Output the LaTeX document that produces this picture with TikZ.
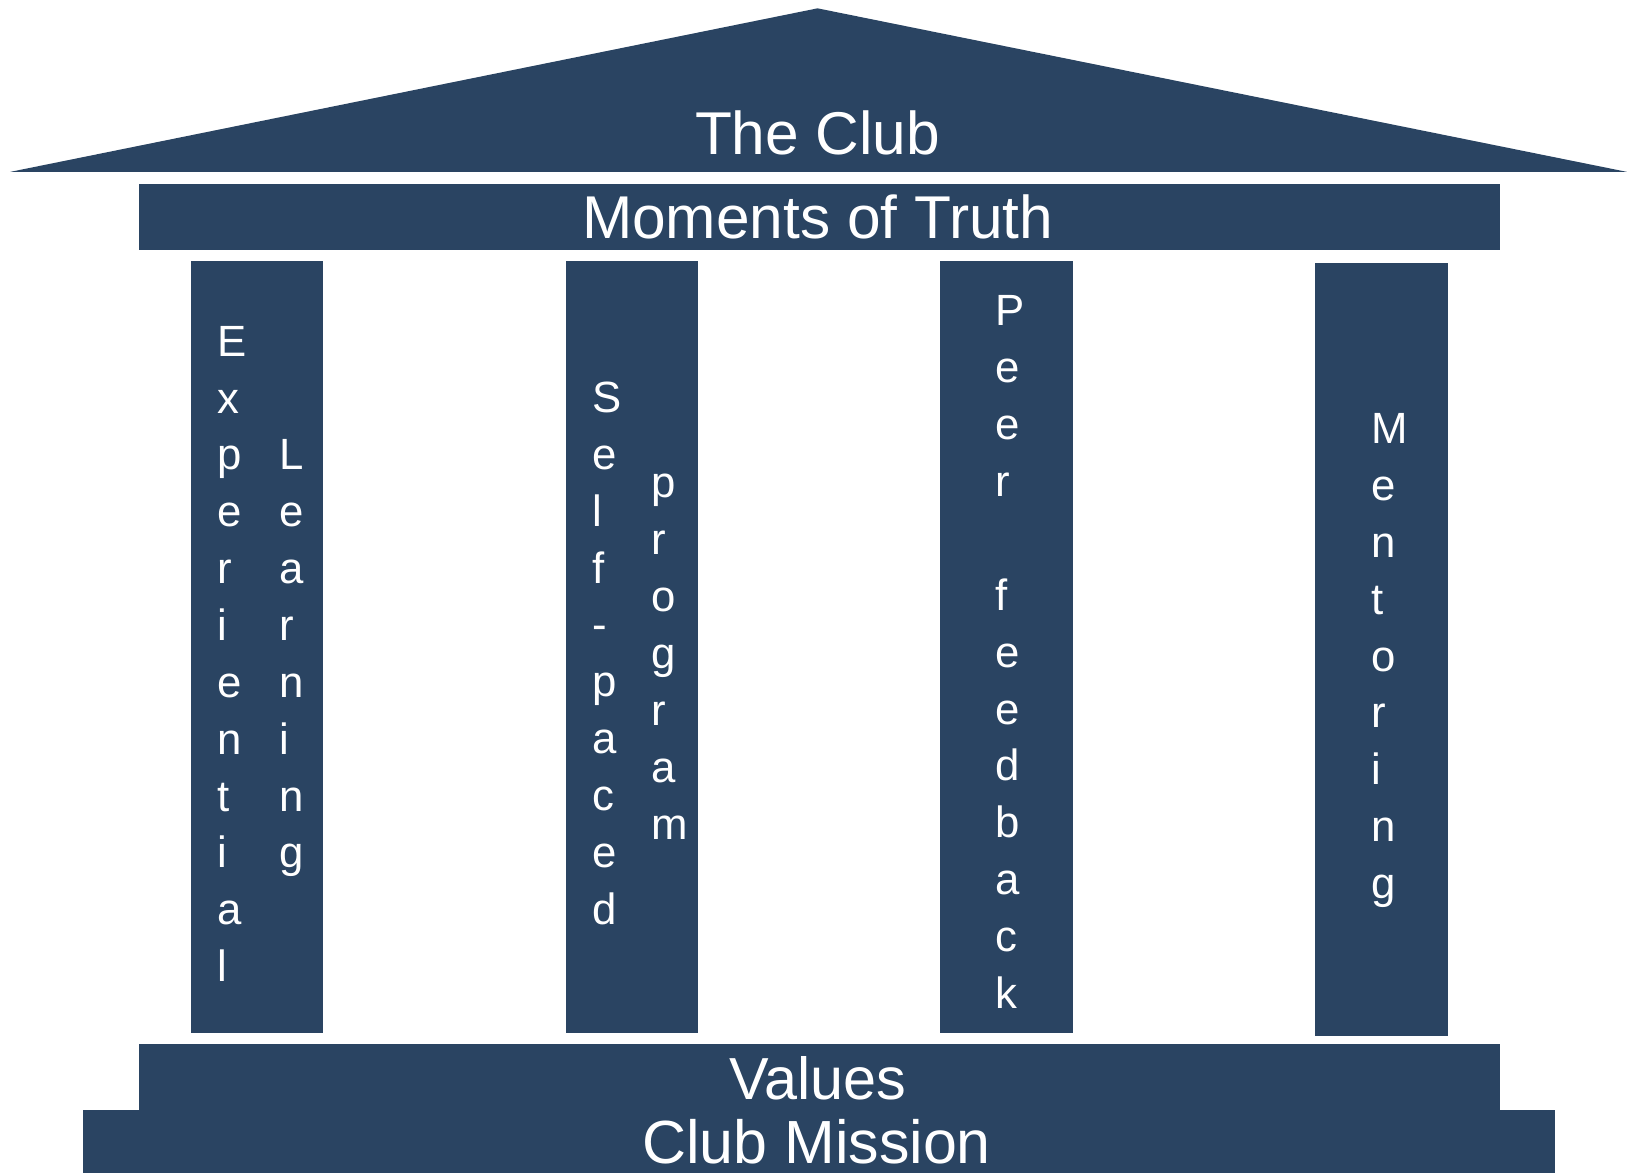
\documentclass[tikz,border=0pt]{standalone}
\usepackage{fontspec}
\setmainfont{Liberation Sans}
\definecolor{navy}{RGB}{42,68,98}
\begin{document}
\begin{tikzpicture}[x=1pt,y=-1pt,
  block/.style={fill=navy},
  letter/.style={text=white, inner sep=0pt, anchor=base west, font=\fontsize{42}{50}\selectfont},
  title/.style={text=white, inner sep=0pt, anchor=base, font=\fontsize{58}{62}\selectfont}]
\useasboundingbox (0,0) rectangle (1568,1126);
% roof
\fill[block] (785,8) -- (1562,165) -- (10,165) -- cycle;
\node[title] (club) at (785,148) {The Club};
% architrave
\fill[block] (133,177) rectangle (1440,240);
\node[title] (moments) at (785,229) {Moments of Truth};
% pillars
\fill[block] (183,251) rectangle (310,992);
\fill[block] (543,251) rectangle (670,992);
\fill[block] (903,251) rectangle (1030,992);
\fill[block] (1263,253) rectangle (1390,995);
% base
\fill[block] (133,1002) rectangle (1440,1126);
\fill[block] (80,1066) rectangle (1493,1126);
\node[title, font=\fontsize{57}{62}\selectfont] (values) at (785,1056) {Values};
\node[title, font=\fontsize{58.5}{62}\selectfont] (mission) at (784,1117) {Club Mission};
% pillar texts
\foreach \ch [count=\i from 0] in {E,x,p,e,r,i,e,n,t,i,a,l}
  \node[letter] (exp\i) at (209,{342+54.6*\i}) {\ch};
\foreach \ch [count=\i from 2] in {L,e,a,r,n,i,n,g}
  \node[letter] (lea\i) at (268,{342+54.6*\i}) {\ch};
\foreach \ch [count=\i from 0] in {S,e,l,f,-,p,a,c,e,d}
  \node[letter] (sel\i) at (569,{396+54.6*\i}) {\ch};
\foreach \ch [count=\i from 0] in {p,r,o,g,r,a,m}
  \node[letter] (pro\i) at (625,{478+54.6*\i}) {\ch};
\foreach \ch [count=\i from 0] in {P,e,e,r}
  \node[letter] (pee\i) at (956,{313+54.6*\i}) {\ch};
\foreach \ch [count=\i from 5] in {f,e,e,d,b,a,c,k}
  \node[letter] (fee\i) at (956,{313+54.6*\i}) {\ch};
\foreach \ch [count=\i from 0] in {M,e,n,t,o,r,i,n,g}
  \node[letter] (men\i) at (1317,{426+54.6*\i}) {\ch};
\end{tikzpicture}
\end{document}
